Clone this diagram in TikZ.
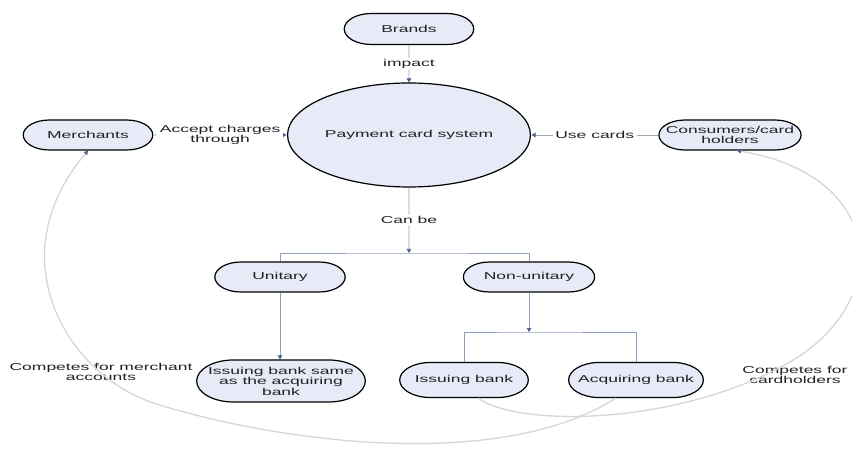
\documentclass[tikz,border=0pt]{standalone}
\usepackage{fontspec}
\setmainfont{Liberation Sans}
\usetikzlibrary{shapes.misc,shapes.geometric,arrows.meta}
\definecolor{nodefill}{HTML}{E6EBF7}
\definecolor{treeline}{HTML}{8FA0C2}
\definecolor{tipcol}{HTML}{4A5F8C}
\definecolor{curvecol}{HTML}{D6D6D6}
\definecolor{lblline}{HTML}{A8A8A8}
\definecolor{txt}{HTML}{222222}
\begin{document}
\begin{tikzpicture}[x=1pt,y=-1pt,
  every node/.style={font=\fontsize{10}{10.5}\selectfont, text=txt, xscale=1.75, inner sep=1pt, align=center},
  capsule/.style={rounded rectangle, draw=black, line width=1.2pt, fill=nodefill, minimum height=30pt, minimum width=76pt},
  oval/.style={ellipse, draw=black, line width=1.2pt, fill=nodefill, minimum width=107.5pt, minimum height=104pt},
  lbl/.style={fill=white, inner sep=1.5pt},
  tip/.style={-{Triangle[length=4pt,width=4.5pt,color=tipcol]}},
  tree/.style={draw=treeline, line width=0.6pt},
  side/.style={draw=lblline, line width=0.6pt},
  curve/.style={draw=curvecol, line width=1.3pt}]
\fill[white] (0,0) rectangle (852,449);
\useasboundingbox (0,0) rectangle (852,449);

% nodes
\node[capsule, minimum height=31pt] (brands) at (409,29) {Brands};
\node[oval] (pcs) at (409,135) {Payment card system};
\node[capsule] (merch) at (88,135) {Merchants};
\node[capsule, minimum width=77pt] (cons) at (730,135) {Consumers/card\\holders};
\node[capsule, minimum width=76.5pt] (unit) at (280,277) {Unitary};
\node[capsule, minimum width=77pt] (nonu) at (529,277) {Non-unitary};
\node[capsule, minimum width=95.5pt, minimum height=42pt] (isame) at (281,381) {Issuing bank same\\as the acquiring\\bank};
\node[capsule, minimum width=75.5pt, minimum height=35pt] (iss) at (464,380) {Issuing bank};
\node[capsule, minimum width=79pt, minimum height=35pt] (acq) at (636,380) {Acquiring bank};

\node (cm) at (101,372) {Competes for merchant\\accounts};
\node (cc) at (795,375) {Competes for\\cardholders};

\coordinate (fork1) at (409,253);
\coordinate (fork2) at (529,332);

% curves
\draw[curve, tip] ([xshift=-20pt]acq.south) .. controls (500,472) and (280,442) .. (160,405)
   .. controls (70,380) and (-5,260) .. (merch.south);
\draw[curve, tip] ([xshift=14pt]iss.south) .. controls (520,428) and (680,425) .. (790,362)
   .. controls (895,300) and (885,175) .. ([xshift=7pt]cons.south);

% connectors
\draw[tree, tip] (brands) -- node[lbl] {impact} (pcs);
\draw[side, tip] (merch) -- node[lbl] {Accept charges\\through} (pcs);
\draw[side, tip] (cons) -- node[lbl] {Use cards} (pcs);
\draw[tree, tip] (pcs) -- node[lbl] {Can be} (fork1);
\draw[tree] (unit.north) |- (fork1) -| (nonu.north);
\draw[tree, tip] (unit.south) -- (unit.south |- isame.north);
\draw[tree, tip] (nonu.south) -- (fork2);
\draw[tree] (iss.north) |- (fork2) -| (acq.north);
\end{tikzpicture}
\end{document}
